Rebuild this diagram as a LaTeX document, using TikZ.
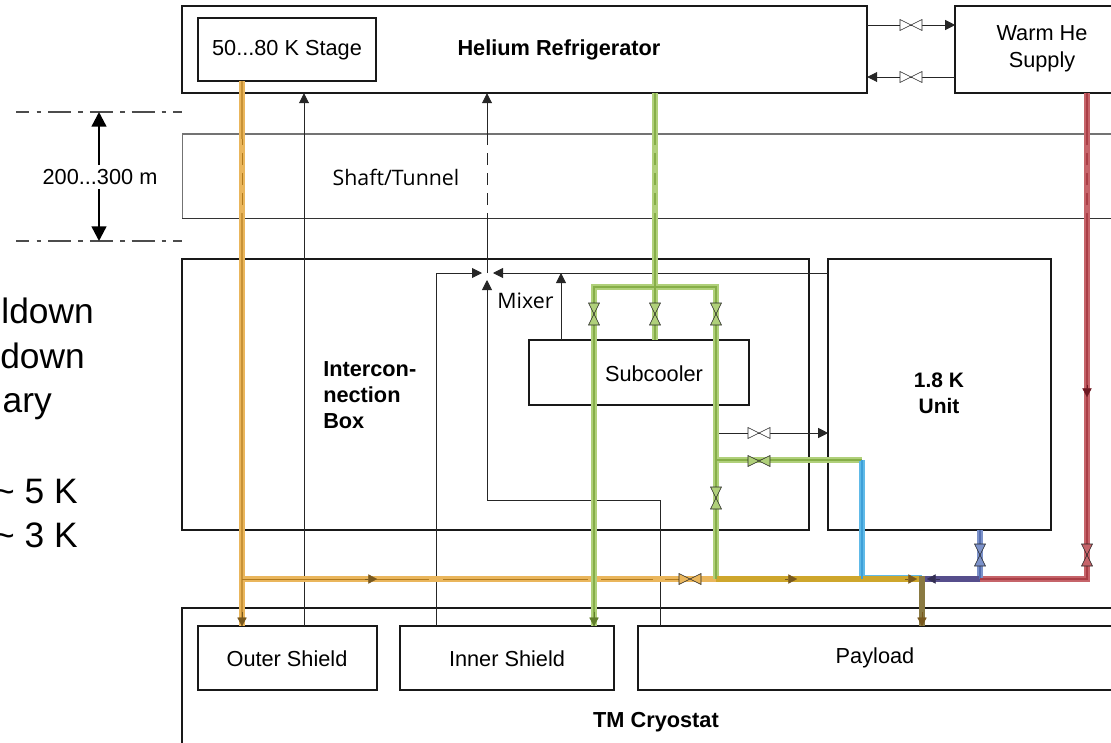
\documentclass[tikz,border=0pt]{standalone}
\usepackage{fontspec}
\setmainfont{Liberation Sans}
\newfontfamily\segoefont{Open Sans}
\usetikzlibrary{arrows.meta}
\definecolor{orangelt}{RGB}{234,182,92}
\definecolor{orangedk}{RGB}{176,122,30}
\definecolor{orangetip}{RGB}{120,88,30}
\definecolor{greenlt}{RGB}{176,208,122}
\definecolor{greendk}{RGB}{134,174,72}
\definecolor{greentip}{RGB}{96,126,42}
\definecolor{bluelt}{RGB}{96,186,232}
\definecolor{bluedk}{RGB}{62,160,216}
\definecolor{violetlt}{RGB}{124,146,202}
\definecolor{violetdk}{RGB}{84,110,176}
\definecolor{redlt}{RGB}{198,100,106}
\definecolor{reddk}{RGB}{170,62,70}
\definecolor{redtip}{RGB}{110,24,34}
\definecolor{goldlt}{RGB}{206,166,44}
\definecolor{olive}{RGB}{138,122,66}
\definecolor{dusk}{RGB}{86,78,140}
\tikzset{
    unit/.style={draw=black!90, line width=1.5pt, outer sep=0pt, anchor=north west},
    label/.style={font=\fontsize{16.3}{20}\selectfont, align=center, inner sep=0pt},
    boldlabel/.style={label, font=\fontsize{16.3}{19.5}\selectfont\bfseries},
    softlabel/.style={label, font=\fontsize{16}{20}\segoefont},
    flowline/.style={draw=black!85, line width=0.65pt},
    flow/.style={flowline, -{Triangle[length=7.5pt,width=7.5pt]}},
    pipe/.style={line width=4.5pt, draw=#1},
    core/.style={line width=1.4pt, draw=#1},
    tip/.style={draw=#1, line width=0.2pt, -{Triangle[length=6.5pt,width=7pt]}},
    levelline/.style={draw=black!70, line width=1pt, dash pattern=on 17.3pt off 5.3pt on 3.4pt off 5.3pt, dash phase=7.2pt},
    depthline/.style={line width=1.8pt, -{Triangle[length=11pt,width=11pt]}},
    pics/valve/.style={code={
        \path[draw=black!85, line width=0.45pt, fill=#1] (-11,-5.5) -- (11,5.5) -- (11,-5.5) -- (-11,5.5) -- cycle;
    }},
    pics/valve/.default=white
}
\begin{document}
\begin{tikzpicture}[x=0.75pt,y=-0.75pt]
    \useasboundingbox (0,0) rectangle (1111,743);

    % Linee di quota
    \coordinate (topL) at (16,112);
    \coordinate (topR) at (182,112);
    \coordinate (botL) at (16,241);
    \coordinate (botR) at (182,241);
    \draw[levelline] (topL) -- (topR);
    \draw[levelline] (botL) -- (botR);
    \node[label] (depth) at (100,177) {200...300 m};
    \coordinate (depthN) at (99,165);
    \coordinate (depthS) at (99,189);
    \draw[depthline] (depthN) -- (depthN |- topL);
    \draw[depthline] (depthS) -- (depthS |- botL);

    % Testo tagliato a sinistra
    \begin{scope}[every node/.style={font=\fontsize{26.5}{30}\selectfont, inner sep=0pt, anchor=base east}]
        \node (txtA) at (94,323) {ldown};
        \node (txtB) at (85,368) {down};
        \node (txtC) at (52,412) {ary};
        \node (txtD) at (78,503) {\textasciitilde\ 5 K};
        \node (txtE) at (78,547) {\textasciitilde\ 3 K};
    \end{scope}

    % Riquadri
    \node[unit, minimum width=685*0.75pt, minimum height=87*0.75pt] (fridge) at (182.2,6.2) {};
    \node[unit, minimum width=178*0.75pt, minimum height=63*0.75pt] (stage) at (198.2,18.2) {};
    \node[unit, minimum width=200*0.75pt, minimum height=87*0.75pt] (warm) at (955.2,6.2) {};
    \node[unit, draw=none, minimum width=960*0.75pt, minimum height=84*0.75pt] (shaft) at (182.2,134) {};
    \draw[black!55, line width=1.2pt] (shaft.north east) -- (shaft.north west);
    \draw[black!55, line width=0.8pt] (shaft.north west) -- (shaft.south west);
    \draw[black!80, line width=0.7pt] (shaft.south west) -- (shaft.south east);
    \node[unit, minimum width=627*0.75pt, minimum height=271*0.75pt] (ibox) at (182.2,259.2) {};
    \node[unit, minimum width=223*0.75pt, minimum height=271*0.75pt] (kunit) at (828.2,259.2) {};
    \node[unit, minimum width=220*0.75pt, minimum height=65*0.75pt] (subcooler) at (529.2,340.2) {};
    \node[unit, minimum width=960*0.75pt, minimum height=160*0.75pt] (cryostat) at (182.2,608.2) {};
    \node[unit, minimum width=179*0.75pt, minimum height=64*0.75pt] (outer) at (198.2,626.2) {};
    \node[unit, minimum width=214*0.75pt, minimum height=64*0.75pt] (inner) at (400.2,626.2) {};
    \node[unit, minimum width=500*0.75pt, minimum height=64*0.75pt] (payload) at (638.2,626.2) {};

    % Etichette
    \node[label] (stagetxt) at (287,50) {50...80 K Stage};
    \node[boldlabel] (fridgetxt) at (559,50) {Helium Refrigerator};
    \node[label] (warmtxt) at (1042,48.5) {Warm He\\Supply};
    \node[softlabel] (shafttxt) at (396,177) {Shaft/Tunnel};
    \node[boldlabel, align=left, anchor=west] (iboxtxt) at (323,395) {Intercon-\\nection\\Box};
    \node[softlabel] (mixertxt) at (525.5,301) {Mixer};
    \node[label] (subtxt) at (654,374) {Subcooler};
    \node[boldlabel, font=\fontsize{15.7}{19.5}\selectfont\bfseries] (kunittxt) at (939,393) {1.8 K\\Unit};
    \node[label] (outertxt) at (287,659) {Outer Shield};
    \node[label] (innertxt) at (507,659) {Inner Shield};
    \node[label] (payloadtxt) at (875,658) {Payload};
    \node[boldlabel] (cryotxt) at (656,722) {TM Cryostat};

    % Punti di snodo
    \coordinate (mix) at (487,273);
    \coordinate (mixW) at (482,273);
    \coordinate (mixE) at (493,273);
    \coordinate (mixS) at (487,280);
    \coordinate (mixCorner) at (436,273);
    \coordinate (retA) at (487,500);
    \coordinate (retB) at (660,500);
    \coordinate (busW) at (242,579);
    \coordinate (busA) at (716,579);
    \coordinate (busB) at (862,579);
    \coordinate (busC) at (922,579);
    \coordinate (busD) at (980,579);
    \coordinate (busE) at (1087,579);
    \coordinate (barW) at (594,287);
    \coordinate (barE) at (716,287);
    \coordinate (branchA) at (716,460);
    \coordinate (branchB) at (862,460);

    % Linee sottili
    \draw[flow] (outer.north -| 304,0) -- (fridge.south -| 304,0);
    \draw[flowline] (mix) -- (487,213);
    \draw[flowline, dash pattern=on 9pt off 6pt] (487,205) -- (487,139);
    \draw[flow] (487,139) -- (fridge.south -| 487,0);
    \draw[flow] (inner.north -| mixCorner) -- (mixCorner) -- (mixW);
    \draw[flow] (payload.north -| retB) -- (retB) -- (retA) -- (mixS);
    \draw[flow] (kunit.west |- mix) -- (mixE);
    \draw[flow] (subcooler.north -| 561,0) -- (561,273);
    \draw[flow] (fridge.east |- 0,25) -- (warm.west |- 0,25);
    \draw[flow] (warm.west |- 0,77) -- (fridge.east |- 0,77);
    \draw[flow] (716,433) -- (kunit.west |- 0,433);

    % Tubi colorati
    \draw[pipe=orangelt] (stage.south -| 242,0) -- (outer.north -| 242,0);
    \draw[pipe=orangelt] (busW) -- (busA);
    \draw[pipe=greenlt] (fridge.south -| 655,0) -- (subcooler.north -| 655,0);
    \draw[pipe=greenlt] (outer.north -| 594,0) -- (barW) -- (barE) -- (busA);
    \draw[pipe=greenlt] (branchA) -- (branchB);
    \draw[pipe=bluelt] (branchB) -- (busB);
    \draw[bluelt, line width=1.5pt] (862,576) -- (922,576);
    \draw[pipe=goldlt] (busA) -- (busC);
    \draw[pipe=redlt] (warm.south -| busE) -- (busE) -- (busD);
    \draw[pipe=violetlt] (kunit.south -| busD) -- (busD);
    \draw[pipe=dusk] (busD) -- (busC);
    \draw[pipe=olive] (922,576) -- (outer.north -| busC);

    % Anime dei tubi
    \draw[core=orangedk!60!orangelt] (242,81) -- (242,139);
    \draw[core=orangedk!60!orangelt] (242,213) -- (242,626);
    \draw[flowline, draw=orangedk, dash pattern=on 9pt off 6pt] (242,205) -- (242,139);
    \draw[flowline, draw=orangedk] (242,579) -- (429,579);
    \draw[flowline, draw=orangedk] (443,579) -- (588,579);
    \draw[flowline, draw=orangedk] (601,579) -- (653,579);
    \draw[flowline, draw=orangedk] (665,579) -- (680,579);
    \draw[core=greendk] (655,93) -- (655,139);
    \draw[core=greendk, dash pattern=on 9pt off 6pt] (655,205) -- (655,139);
    \draw[core=greendk] (655,213) -- (655,340);
    \draw[core=greendk] (594,626) -- (594,287) -- (716,287) -- (716,579);
    \draw[core=greendk] (716,460) -- (862,460);
    \draw[core=bluedk] (862,460) -- (862,579);
    \draw[core=violetdk] (980,530) -- (980,579);
    \draw[core=reddk] (1087,93) -- (1087,139);
    \draw[core=reddk, dash pattern=on 9pt off 6pt] (1087,205) -- (1087,139);
    \draw[core=reddk] (1087,213) -- (1087,579) -- (980,579);

    % Punte sui tubi
    \draw[tip=orangetip] (242,612) -- (outer.north -| 242,0);
    \draw[tip=greentip] (594,612) -- (outer.north -| 594,0);
    \draw[tip=orangetip] (922,612) -- (outer.north -| 922,0);
    \draw[tip=redtip] (1087,385) -- (1087,397);
    \draw[tip=orangetip] (365,579) -- (377,579);
    \draw[tip=orangetip] (785,579) -- (797,579);
    \draw[tip=orangetip] (905,579) -- (917,579);
    \draw[tip=dusk!60!black] (940,579) -- (927,579);

    % Valvole
    \path (911,25) pic {valve};
    \path (911,77) pic {valve};
    \path (759,433) pic {valve};
    \path (759,461) pic {valve=greenlt};
    \path (690,579) pic {valve=orangelt};
    \path (594,314) pic[rotate=90] {valve=greenlt};
    \path (655,314) pic[rotate=90] {valve=greenlt};
    \path (716,314) pic[rotate=90] {valve=greenlt};
    \path (716,498) pic[rotate=90] {valve=greenlt};
    \path (980,555) pic[rotate=90] {valve=violetlt};
    \path (1087,555) pic[rotate=90] {valve=redlt};

\end{tikzpicture}
\end{document}
